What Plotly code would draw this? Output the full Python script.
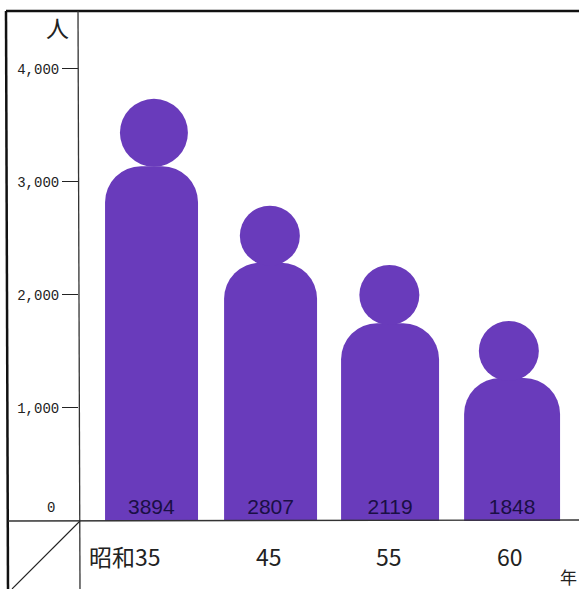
import plotly.graph_objects as go

categories = ["昭和35", "45", "55", "60"]
totals = [3894, 2807, 2119, 1848]
body_tops = [3140, 2285, 1750, 1265]
head_centres = [3435, 2525, 2000, 1505]
y_ticks = [1000, 2000, 3000, 4000]
y_tick_labels = ["1,000", "2,000", "3,000", "4,000"]

W, H = 579, 589
L, R, T, B = 79, 0, 11, 68
PURPLE = "#693bbb"
CJK = "Noto Sans CJK JP"
SANS = "Liberation Sans"
MONO = "Liberation Mono"


def px(x):
    return (x - L) / (W - L - R)


def py(y):
    return 1 - (y - T) / (H - T - B)


positions = list(range(len(categories)))
head_offsets = [0.02, -0.01, -0.01, -0.01]
bar_offsets = [0, -0.004, -0.004, 0.017]
bar_widths = [0.778, 0.778, 0.82, 0.803]
head_sizes = [68, 60, 60, 60]
label_shift = [-27, -2, -2, 0]

fig = go.Figure()
fig.add_bar(
    x=[p + o for p, o in zip(positions, bar_offsets)], y=body_tops, width=bar_widths,
    marker=dict(color=PURPLE, cornerradius=36, line=dict(width=0)),
    text=[str(v) for v in totals], textposition="inside",
    insidetextanchor="start", textangle=0, constraintext="none",
    textfont=dict(family=SANS, size=21, color="#1a0f45"),
    hoverinfo="skip",
)
fig.add_scatter(
    x=[p + o for p, o in zip(positions, head_offsets)], y=head_centres, mode="markers",
    marker=dict(size=head_sizes, color=PURPLE, opacity=1, line=dict(width=0)),
    hoverinfo="skip",
)


def seg(x0, y0, x1, y1, w, c="#111111"):
    return dict(type="line", xref="paper", yref="paper", x0=px(x0), y0=py(y0),
                x1=px(x1), y1=py(y1), line=dict(color=c, width=w), layer="above")


shapes = [
    seg(6, 11, 8, 589, 2.5),
    seg(6, 11, 579, 11, 2.5),
    seg(78, 11, 80, 589, 1.3, "#333333"),
    seg(8, 521, 579, 520, 1.4, "#333333"),
    seg(80, 521, 12, 589, 1.1, "#222222"),
]

centre = dict(xanchor="center", yanchor="middle", showarrow=False)
annotations = [
    dict(x=p, y=py(556), xref="x", yref="paper", text=c, xshift=s,
         font=dict(family=CJK, size=23, color="#222222"), **centre)
    for p, c, s in zip(positions, categories, label_shift)
]
annotations += [
    dict(x=px(57), y=py(27), xref="paper", yref="paper", text="人",
         font=dict(family=CJK, size=23, color="#222222"), **centre),
    dict(x=px(568), y=py(576), xref="paper", yref="paper", text="年",
         font=dict(family=CJK, size=17, color="#222222"), **centre),
    dict(x=px(51), y=py(508), xref="paper", yref="paper", text="0",
         font=dict(family=MONO, size=14, color="#222222"), **centre),
]

fig.update_layout(
    width=W, height=H, autosize=False,
    margin=dict(l=L, r=R, t=T, b=B, pad=0),
    paper_bgcolor="white", plot_bgcolor="white",
    showlegend=False, shapes=shapes, annotations=annotations,
    xaxis=dict(range=[-0.607, 3.577], showticklabels=False, showgrid=False,
               zeroline=False, ticks="", showline=False, fixedrange=True),
    yaxis=dict(range=[0, 4513], tickvals=y_ticks, ticktext=y_tick_labels,
               ticks="outside", ticklen=16, tickwidth=1.3, tickcolor="#222222",
               tickfont=dict(family=MONO, size=14, color="#222222"),
               showgrid=False, zeroline=False, showline=False, fixedrange=True),
)
fig.write_html("out.html", config=dict(displayModeBar=False),
               post_script="document.body.style.margin='0';document.documentElement.style.overflow='hidden';")
